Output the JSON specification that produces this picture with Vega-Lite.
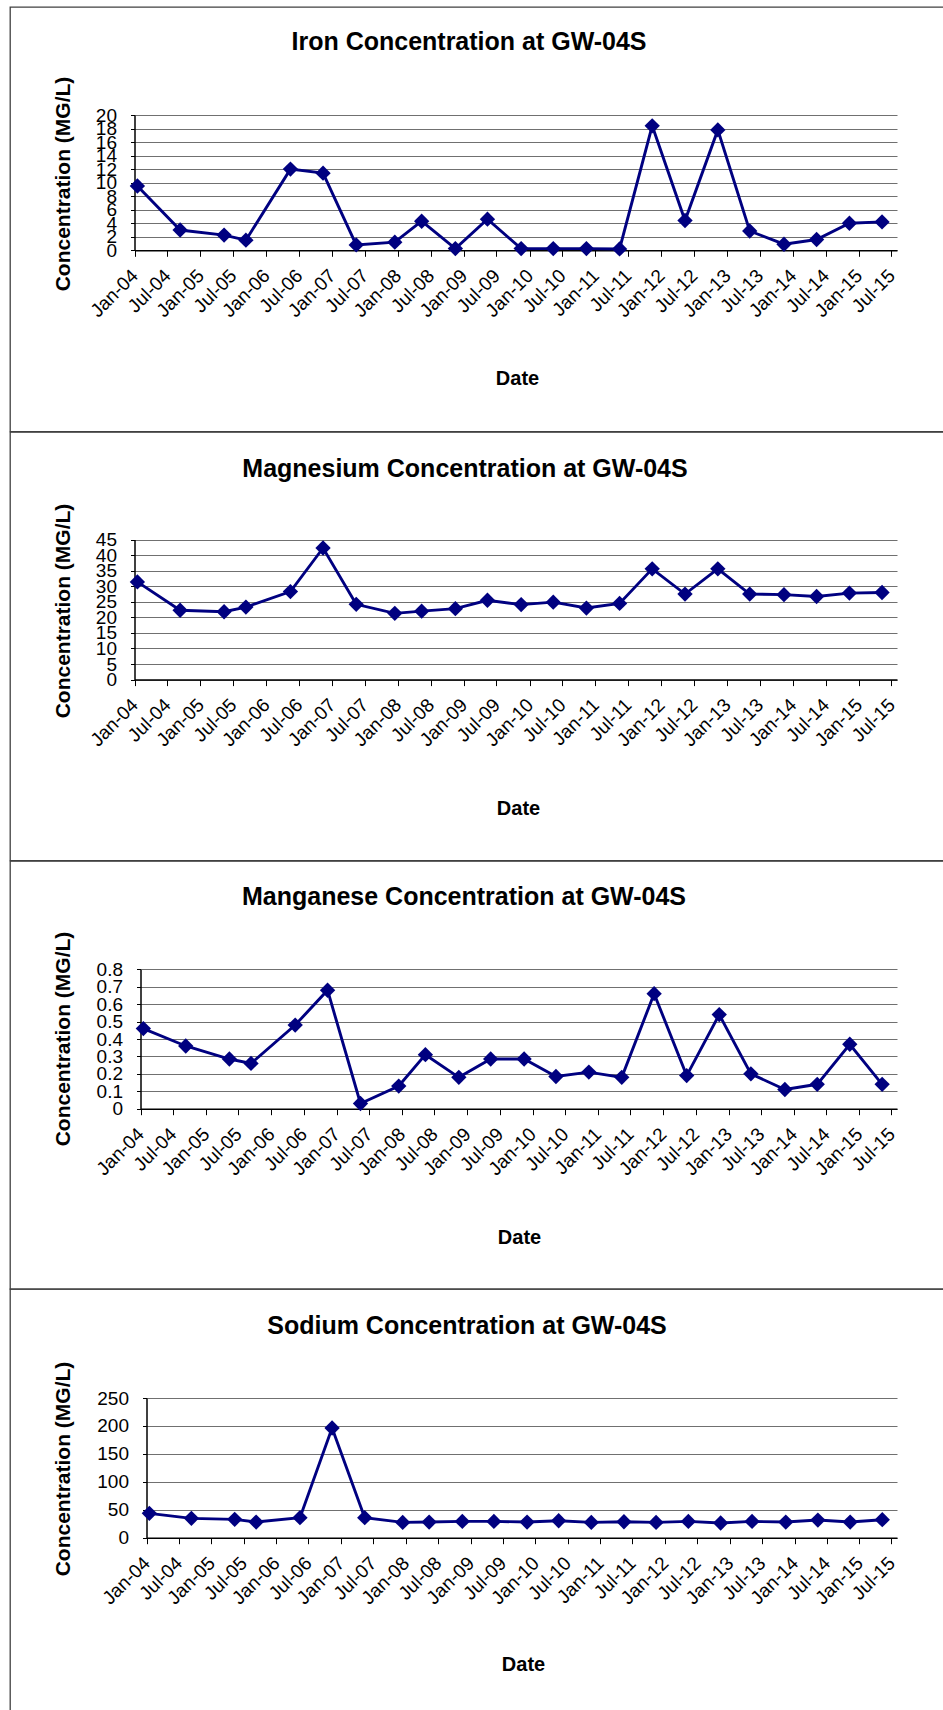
{
  "$schema": "https://vega.github.io/schema/vega-lite/v6.json",
  "background": "white",
  "padding": {"left": 9, "top": 6, "right": 0, "bottom": 0},
  "spacing": 0,
  "bounds": "flush",
  "datasets": {
    "gw": [
      {"date": "2004-01-17", "Fe": 9.5, "Mg": 31.4, "Mn": 0.46, "Na": 43.6},
      {"date": "2004-09-10", "Fe": 3.0, "Mg": 22.3, "Mn": 0.36, "Na": 34.6},
      {"date": "2005-05-12", "Fe": 2.25, "Mg": 21.8, "Mn": 0.285, "Na": 32.8},
      {"date": "2005-09-10", "Fe": 1.5, "Mg": 23.3, "Mn": 0.26, "Na": 28},
      {"date": "2006-05-15", "Fe": 12.0, "Mg": 28.3, "Mn": 0.48, "Na": 35.8},
      {"date": "2006-11-12", "Fe": 11.4, "Mg": 42.3, "Mn": 0.68, "Na": 196.3},
      {"date": "2007-05-15", "Fe": 0.8, "Mg": 24.2, "Mn": 0.03, "Na": 35.8},
      {"date": "2007-12-15", "Fe": 1.2, "Mg": 21.3, "Mn": 0.13, "Na": 27.4},
      {"date": "2008-05-12", "Fe": 4.3, "Mg": 22.0, "Mn": 0.31, "Na": 28},
      {"date": "2008-11-15", "Fe": 0.25, "Mg": 22.8, "Mn": 0.18, "Na": 29.2},
      {"date": "2009-05-12", "Fe": 4.6, "Mg": 25.5, "Mn": 0.285, "Na": 29.2},
      {"date": "2009-11-15", "Fe": 0.25, "Mg": 24.1, "Mn": 0.285, "Na": 28},
      {"date": "2010-05-12", "Fe": 0.25, "Mg": 24.9, "Mn": 0.185, "Na": 30.4},
      {"date": "2010-11-12", "Fe": 0.25, "Mg": 23.0, "Mn": 0.21, "Na": 27.4},
      {"date": "2011-05-15", "Fe": 0.2, "Mg": 24.5, "Mn": 0.18, "Na": 28.6},
      {"date": "2011-11-12", "Fe": 18.4, "Mg": 35.6, "Mn": 0.66, "Na": 27.4},
      {"date": "2012-05-12", "Fe": 4.4, "Mg": 27.5, "Mn": 0.19, "Na": 29.2},
      {"date": "2012-11-10", "Fe": 17.8, "Mg": 35.6, "Mn": 0.54, "Na": 26.3},
      {"date": "2013-05-06", "Fe": 2.85, "Mg": 27.5, "Mn": 0.2, "Na": 29.2},
      {"date": "2013-11-12", "Fe": 0.9, "Mg": 27.3, "Mn": 0.11, "Na": 28},
      {"date": "2014-05-12", "Fe": 1.6, "Mg": 26.7, "Mn": 0.14, "Na": 31.6},
      {"date": "2014-11-10", "Fe": 4.0, "Mg": 27.8, "Mn": 0.37, "Na": 28},
      {"date": "2015-05-10", "Fe": 4.2, "Mg": 28.0, "Mn": 0.14, "Na": 32.2}
    ]
  },
  "config": {
    "font": "Liberation Sans",
    "view": {"stroke": "#404040", "strokeWidth": 1.3},
    "title": {"font": "Liberation Sans", "fontSize": 25, "fontWeight": "bold", "color": "#000000", "anchor": "middle", "frame": "group", "baseline": "middle"},
    "axis": {
      "labelFont": "Liberation Sans", "labelColor": "#000000",
      "titleFont": "Liberation Sans", "titleColor": "#000000", "titleFontWeight": "bold",
      "domainColor": "#000000", "domainWidth": 1.5, "tickColor": "#000000", "tickWidth": 1,
      "labelOverlap": false, "labelFlush": false
    },
    "axisX": {
      "grid": false, "tickSize": 6, "labelFontSize": 19, "labelAngle": -45,
      "labelAlign": "right", "labelBaseline": "middle", "labelPadding": 16,
      "labelDx": 3, "labelDy": 3,
      "format": "%b-%y", "tickCount": {"interval": "month", "step": 6},
      "titleFontSize": 20, "titleAlign": "center", "titleBaseline": "middle", "titleAngle": 0
    },
    "axisY": {
      "grid": true, "gridColor": "#707070", "gridWidth": 1.2, "tickSize": 4,
      "labelFontSize": 19, "labelPadding": 14, "format": "~r",
      "titleFontSize": 21, "titleAngle": -90, "titleAlign": "center", "titleBaseline": "middle"
    }
  },
  "vconcat": [
    {
      "width": 935, "height": 424.5,
      "title": {"text": "Iron Concentration at GW-04S", "offset": -48, "dx": -8.5},
      "data": {"name": "gw"},
      "encoding": {
        "x": {"field": "date", "type": "temporal",
          "scale": {"domain": [{"year": 2004, "month": "Jan", "date": 1}, {"year": 2015, "month": "Aug", "date": 1}], "range": [124.5, 887]},
          "axis": {"offset": -181.2, "title": "Date", "titleX": 507, "titleY": 127.7}},
        "y": {"field": "Fe", "type": "quantitative",
          "scale": {"domain": [0, 20], "range": [243.3, 108], "nice": false},
          "axis": {"offset": -124.5, "values": [0, 2, 4, 6, 8, 10, 12, 14, 16, 18, 20], "title": "Concentration (MG/L)", "titleX": -71.5, "titleY": 176.5}}
      },
      "layer": [
        {"data": {"values": [{}]}, "mark": {"type": "rule", "color": "#808080", "strokeWidth": 2},
          "encoding": {"x": {"datum": {"year": 2015, "month": "Aug", "date": 1}, "type": "temporal"}, "y": {"datum": 0}, "y2": {"datum": 20}}},
        {"mark": {"type": "line", "color": "#000080", "strokeWidth": 2.9}},
        {"mark": {"type": "point", "shape": "diamond", "filled": true, "color": "#000080", "size": 235, "opacity": 1}}
      ]
    },
    {
      "width": 935, "height": 428.5,
      "title": {"text": "Magnesium Concentration at GW-04S", "offset": -49.5, "dx": -12.5},
      "data": {"name": "gw"},
      "encoding": {
        "x": {"field": "date", "type": "temporal",
          "scale": {"domain": [{"year": 2004, "month": "Jan", "date": 1}, {"year": 2015, "month": "Aug", "date": 1}], "range": [124.5, 887]},
          "axis": {"offset": -180.9, "title": "Date", "titleX": 508, "titleY": 128.4}},
        "y": {"field": "Mg", "type": "quantitative",
          "scale": {"domain": [0, 45], "range": [247.6, 107.6], "nice": false},
          "axis": {"offset": -124.5, "values": [0, 5, 10, 15, 20, 25, 30, 35, 40, 45], "title": "Concentration (MG/L)", "titleX": -71.5, "titleY": 178.5}}
      },
      "layer": [
        {"data": {"values": [{}]}, "mark": {"type": "rule", "color": "#808080", "strokeWidth": 2},
          "encoding": {"x": {"datum": {"year": 2015, "month": "Aug", "date": 1}, "type": "temporal"}, "y": {"datum": 0}, "y2": {"datum": 45}}},
        {"mark": {"type": "line", "color": "#000080", "strokeWidth": 2.9}},
        {"mark": {"type": "point", "shape": "diamond", "filled": true, "color": "#000080", "size": 235, "opacity": 1}}
      ]
    },
    {
      "width": 935, "height": 428,
      "title": {"text": "Manganese Concentration at GW-04S", "offset": -49, "dx": -13.5},
      "data": {"name": "gw"},
      "encoding": {
        "x": {"field": "date", "type": "temporal",
          "scale": {"domain": [{"year": 2004, "month": "Jan", "date": 1}, {"year": 2015, "month": "Aug", "date": 1}], "range": [130.5, 887]},
          "axis": {"offset": -180.3, "title": "Date", "titleX": 509, "titleY": 128.3}},
        "y": {"field": "Mn", "type": "quantitative",
          "scale": {"domain": [0, 0.8], "range": [247.7, 108.3], "nice": false},
          "axis": {"offset": -130.5, "values": [0, 0.1, 0.2, 0.3, 0.4, 0.5, 0.6, 0.7, 0.8], "title": "Concentration (MG/L)", "titleX": -77.5, "titleY": 177.5}}
      },
      "layer": [
        {"data": {"values": [{}]}, "mark": {"type": "rule", "color": "#808080", "strokeWidth": 2},
          "encoding": {"x": {"datum": {"year": 2015, "month": "Aug", "date": 1}, "type": "temporal"}, "y": {"datum": 0}, "y2": {"datum": 0.8}}},
        {"mark": {"type": "line", "color": "#000080", "strokeWidth": 2.9}},
        {"mark": {"type": "point", "shape": "diamond", "filled": true, "color": "#000080", "size": 235, "opacity": 1}}
      ]
    },
    {
      "width": 935, "height": 424,
      "title": {"text": "Sodium Concentration at GW-04S", "offset": -50, "dx": -10.5},
      "data": {"name": "gw"},
      "encoding": {
        "x": {"field": "date", "type": "temporal",
          "scale": {"domain": [{"year": 2004, "month": "Jan", "date": 1}, {"year": 2015, "month": "Aug", "date": 1}], "range": [136.5, 887]},
          "axis": {"offset": -175.3, "title": "Date", "titleX": 513, "titleY": 127}},
        "y": {"field": "Na", "type": "quantitative",
          "scale": {"domain": [0, 250], "range": [248.7, 109], "nice": false},
          "axis": {"offset": -136.5, "values": [0, 50, 100, 150, 200, 250], "title": "Concentration (MG/L)", "titleX": -83.5, "titleY": 179.5}}
      },
      "layer": [
        {"data": {"values": [{}]}, "mark": {"type": "rule", "color": "#808080", "strokeWidth": 2},
          "encoding": {"x": {"datum": {"year": 2015, "month": "Aug", "date": 1}, "type": "temporal"}, "y": {"datum": 0}, "y2": {"datum": 250}}},
        {"mark": {"type": "line", "color": "#000080", "strokeWidth": 2.9}},
        {"mark": {"type": "point", "shape": "diamond", "filled": true, "color": "#000080", "size": 235, "opacity": 1}}
      ]
    }
  ]
}
